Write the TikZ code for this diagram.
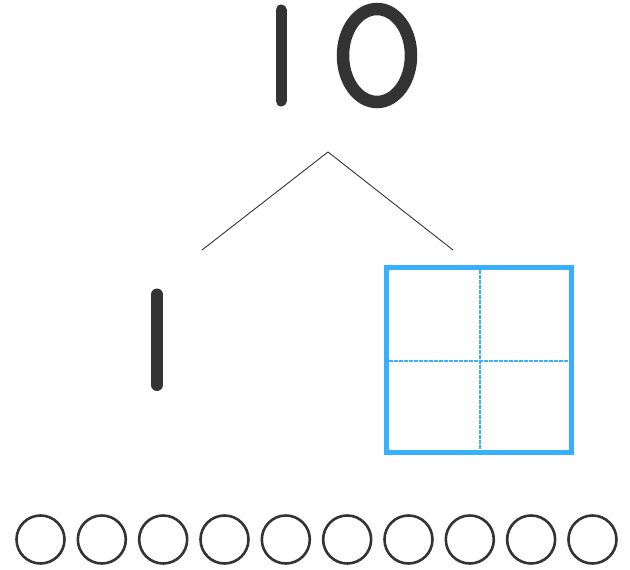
\documentclass[tikz,border=0pt]{standalone}
\begin{document}
\begin{tikzpicture}[x=1pt,y=-1pt,
  digitstroke/.style={draw=inkgray,line width=12pt,line cap=round},
  branch/.style={draw=inkgray,line width=0.9pt},
  frame/.style={draw=frameblue,line width=5pt},
  frameline/.style={draw=frameblue,line width=2pt,dash pattern=on 4pt off 1pt},
  counter/.style={circle,draw=inkgray,line width=2.6pt,minimum size=48pt,inner sep=0pt}]
\definecolor{inkgray}{HTML}{333333}
\definecolor{frameblue}{HTML}{38B0FF}
\useasboundingbox (0,0) rectangle (630,570);
% top number 10
\draw[digitstroke,line width=11pt] (281,10) -- (281,101);
\draw[digitstroke,line width=12.5pt] (377,55.5) ellipse [x radius=34, y radius=46.5];
% branches
\coordinate (apex) at (328,152);
\coordinate (leftend) at (202,250);
\coordinate (rightend) at (453,250);
\draw[branch] (apex) -- (leftend);
\draw[branch] (apex) -- (rightend);
% left part: 1
\draw[digitstroke] (157,294.5) -- (157,385);
% right part: ten frame (2x2)
\draw[frameline] (479.5,270) -- (479.5,449);
\draw[frameline] (389,360.5) -- (569,360.5);
\draw[frame] (386.5,267.5) rectangle (571.5,452);
% ten counters
\foreach \i in {0,...,9}{
  \node[counter] (c\i) at ({40.5+61.33*\i},539.5) {};
}
\end{tikzpicture}
\end{document}
